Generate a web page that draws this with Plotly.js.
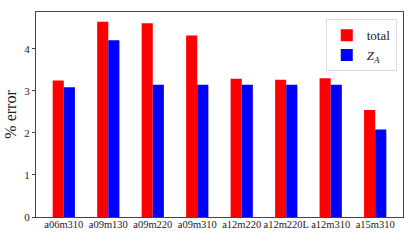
<!DOCTYPE html>
<html><head><meta charset="utf-8">
<script src="https://cdn.plot.ly/plotly-3.0.1.min.js"></script>
<style>html,body{margin:0;padding:0;background:#fff}#chart{width:415px;height:242px}</style>
</head><body><div id="chart"></div>
<script>
const ensembles = ["a06m310","a09m130","a09m220","a09m310","a12m220","a12m220L","a12m310","a15m310"];
const totalErr = [3.25, 4.65, 4.61, 4.32, 3.29, 3.27, 3.30, 2.55];
const zaErr    = [3.09, 4.21, 3.15, 3.15, 3.15, 3.15, 3.15, 2.08];
const yTicks = [0,1,2,3,4];

const font = {family: "Liberation Serif, DejaVu Serif, serif", color: "#222"};
const traces = [
  {type:"bar", name:"total", x:ensembles, y:totalErr, marker:{color:"#ff0000"}},
  {type:"bar", name:"<i>Z</i><sub><i>A</i></sub>", x:ensembles, y:zaErr, marker:{color:"#0000ff"}}
];
const layout = {
  width:415, height:242,
  margin:{l:36, r:12, t:12, b:25},
  paper_bgcolor:"#fff", plot_bgcolor:"#fff",
  barmode:"group", bargap:0.5, bargroupgap:0,
  font: Object.assign({size:11}, font),
  xaxis:{type:"category", range:[-0.625, 7.625], showgrid:false, zeroline:false,
         showline:true, mirror:true, linecolor:"#444", linewidth:1,
         ticks:"", tickangle:0, tickfont:Object.assign({size:10.5}, font), ticklabelstandoff:-3},
  yaxis:{range:[0, 4.88], tickvals:yTicks, showgrid:false, zeroline:false,
         showline:true, mirror:true, linecolor:"#444", linewidth:1,
         ticks:"outside", ticklen:3, tickcolor:"#444",
         tickfont:Object.assign({size:11}, font),
         title:{text:"% error", font:Object.assign({size:16}, font), standoff:3}},
  legend:{x:0.983, xanchor:"right", y:0.965, yanchor:"top",
          bgcolor:"rgba(255,255,255,0.8)", bordercolor:"#ddd", borderwidth:1,
          font:Object.assign({size:13}, font), itemwidth:30, tracegroupgap:2},
  showlegend:true
};
Plotly.newPlot("chart", traces, layout, {displayModeBar:false, staticPlot:true});
</script></body></html>
